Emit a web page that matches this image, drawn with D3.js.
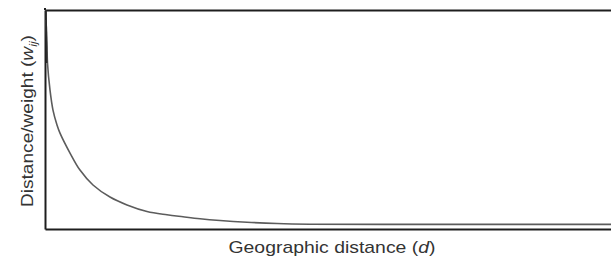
<!DOCTYPE html>
<html>
<head>
<meta charset="utf-8">
<script src="https://cdn.jsdelivr.net/npm/d3@7"></script>
<style>
  body { margin: 0; background: #fff; }
  svg { display: block; }
</style>
</head>
<body>
<script>
// geographic distance (d) and weight values
const distance = [0.18, 0.35, 0.44, 0.88, 1.41, 2.12, 2.65, 4.42, 6.18, 8.48, 11.48, 14.49, 18.02, 21.55, 24.38, 27.39, 30.92, 35.69, 40.99, 46.82, 60, 80, 100]
const weight   = [0.954, 0.840, 0.758, 0.635, 0.543, 0.475, 0.438, 0.347, 0.269, 0.201, 0.146, 0.110, 0.080, 0.065, 0.056, 0.047, 0.039, 0.031, 0.025, 0.022, 0.021, 0.021, 0.021]

const w = 611
const h = 259
const margin = {top: 10, right: 0, bottom: 30, left: 45}

const x = d3.scaleLinear()
  .domain([0, 100])
  .range([margin.left, w - margin.right])

const y = d3.scaleLinear()
  .domain([0, 1])
  .range([h - margin.bottom, margin.top])

const svg = d3.select("body")
  .append("svg")
  .attr("width", w)
  .attr("height", h)

// frame: bottom, top and left axis lines, no ticks
const frame = [
  {axis: d3.axisBottom(x), t: `translate(0,${y(0)})`},
  {axis: d3.axisTop(x), t: `translate(0,${y(1)})`},
  {axis: d3.axisLeft(y), t: `translate(${x(0)},0)`}
]
frame.forEach(f => {
  const g = svg.append("g")
    .attr("transform", f.t)
    .call(f.axis.ticks(0).tickSize(0).tickSizeOuter(0))
  g.select(".domain")
    .attr("stroke", "#1e1e1e")
    .attr("stroke-width", 2)
  g.selectAll("text").remove()
})

// left line pokes a little above the top line
svg.append("line")
  .attr("x1", x(0)).attr("x2", x(0))
  .attr("y1", y(1) - 2).attr("y2", y(1))
  .attr("stroke", "#1e1e1e")
  .attr("stroke-width", 2)

const line = d3.line()
  .x((d, i) => x(distance[i]))
  .y(d => y(d))
  .curve(d3.curveCatmullRom.alpha(0.5))

svg.append("path")
  .datum(weight)
  .attr("fill", "none")
  .attr("stroke", "#5c5c5c")
  .attr("stroke-width", 1.6)
  .attr("d", line)

// steep dark start of the curve
svg.append("line")
  .attr("x1", x(distance[0])).attr("x2", x(0.3))
  .attr("y1", y(1)).attr("y2", y(weight[2]))
  .attr("stroke", "#2a2a2a")
  .attr("stroke-width", 1.6)

// axis titles
svg.append("text")
  .attr("x", 332)
  .attr("y", 253)
  .attr("text-anchor", "middle")
  .attr("font-family", "Liberation Sans, Arial, sans-serif")
  .attr("font-size", "17px")
  .attr("fill", "#333")
  .attr("textLength", 207)
  .attr("lengthAdjust", "spacingAndGlyphs")
  .html("Geographic distance (<tspan font-style='italic'>d</tspan>)")

svg.append("text")
  .attr("transform", "translate(33,121) rotate(-90)")
  .attr("text-anchor", "middle")
  .attr("font-family", "Liberation Sans, Arial, sans-serif")
  .attr("font-size", "17px")
  .attr("fill", "#333")
  .attr("textLength", 172)
  .attr("lengthAdjust", "spacingAndGlyphs")
  .html("Distance/weight (<tspan font-style='italic'>w</tspan><tspan font-style='italic' font-size='11px' dy='4'>ij</tspan><tspan dy='-4'>)</tspan>")
</script>
</body>
</html>
